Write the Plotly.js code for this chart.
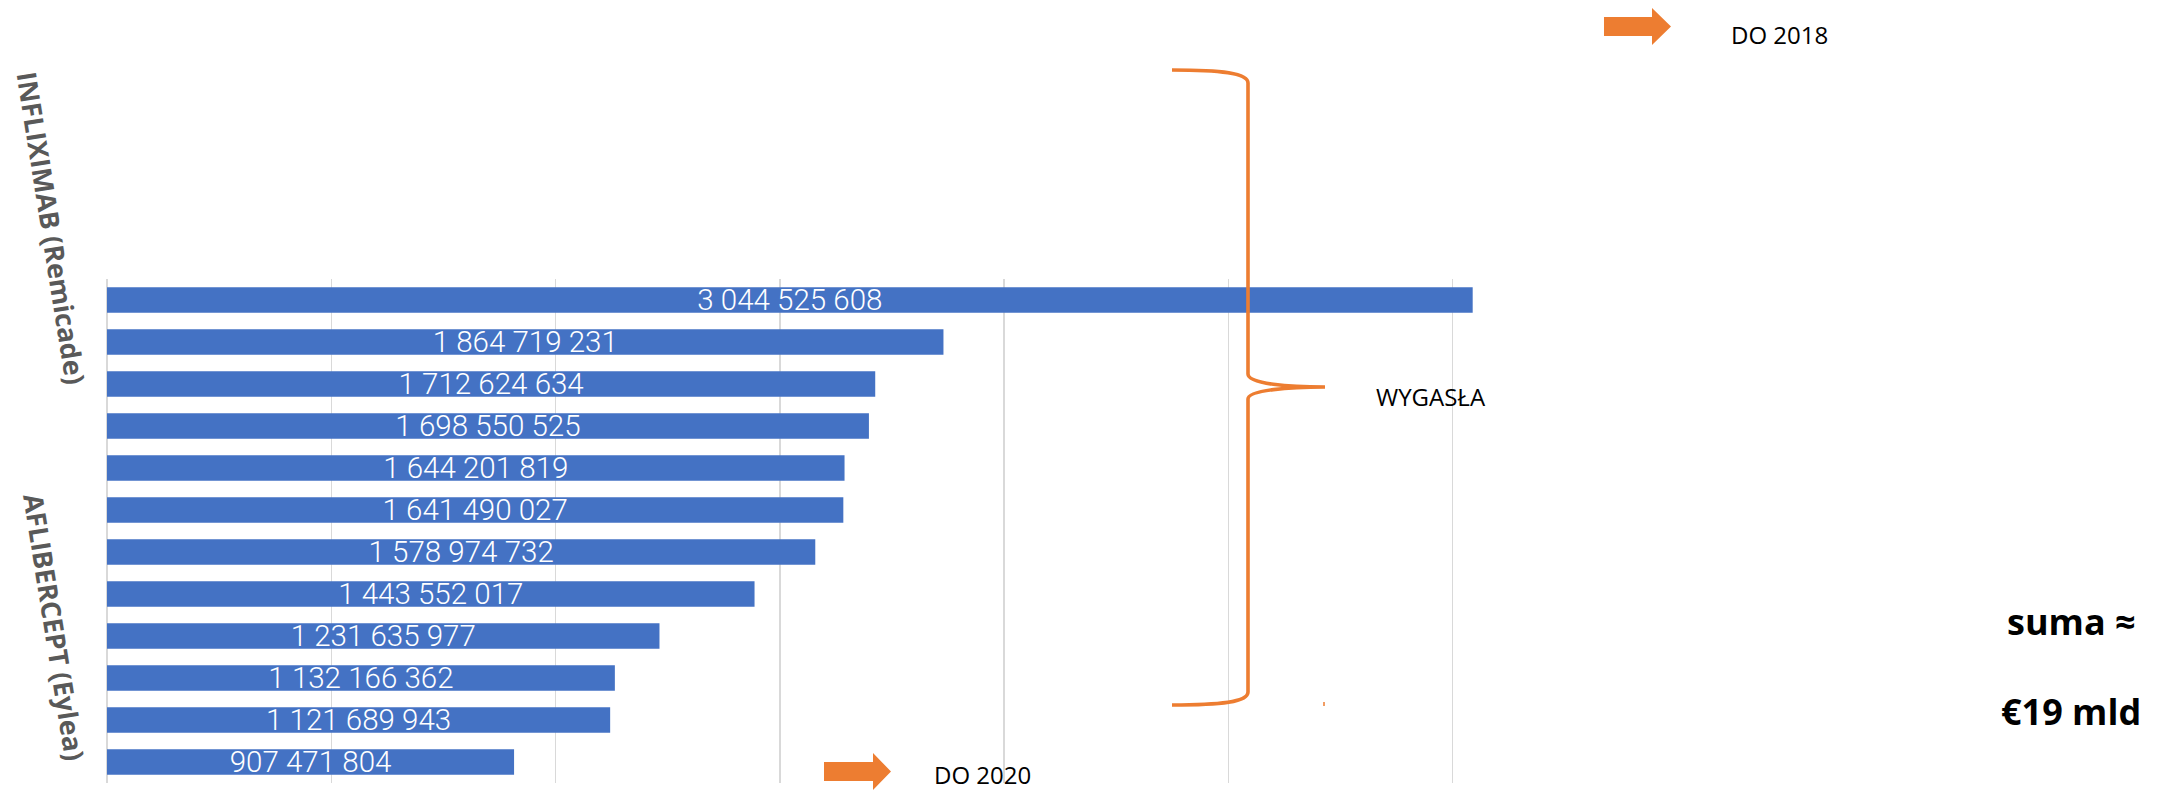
<!DOCTYPE html>
<html>
<head>
<meta charset="utf-8">
<script src="https://cdn.plot.ly/plotly-3.0.1.min.js"></script>
<style>html,body{margin:0;padding:0;background:#fff;}#chart{width:2167px;height:792px;}</style>
</head>
<body>
<div id="chart"></div>
<script>
// Data
const categories = ["1","2","3","4","5","6","7","8","9","10","11","12"];
const values = [3044525608, 1864719231, 1712624634, 1698550525, 1644201819, 1641490027,
                1578974732, 1443552017, 1231635977, 1132166362, 1121689943, 907471804];
const groupLabels = ["INFLIXIMAB (Remicade)", "AFLIBERCEPT (Eylea)"];
const noteLabels = ["DO 2018", "DO 2020", "WYGASŁA"];
const sumLabels = ["suma ≈", "€19 mld"];

// Layout geometry (pixels)
const W = 2167, H = 792;
const M = {l: 107, r: 490, t: 279, b: 9};
const PW = W - M.l - M.r, PH = H - M.t - M.b;
const px = x => (x - M.l) / PW;
const py = y => (H - M.b - y) / PH;
const ORANGE = "#ED7D31";

function pathPx(pts) {
  return pts.map(s => s.replace(/(-?\d+(?:\.\d+)?),(-?\d+(?:\.\d+)?)/g,
    (m, a, b) => px(+a).toFixed(5) + "," + py(+b).toFixed(5))).join(" ");
}

const brace = pathPx([
  "M 1172,70", "C 1222,70 1248,73 1248,83", "L 1248,374",
  "C 1248,384 1290,387 1325,387",
  "C 1290,387 1248,390 1248,399", "L 1248,692",
  "C 1248,702 1222,705 1172,705"
]);
const arrowTop = pathPx(["M 1604,17", "L 1652,17", "L 1652,8", "L 1671,26.5", "L 1652,45", "L 1652,36", "L 1604,36", "Z"]);
const arrowBot = pathPx(["M 824,762", "L 873,762", "L 873,753", "L 891,771.5", "L 873,790", "L 873,781", "L 824,781", "Z"]);
const tick = pathPx(["M 1324,702", "L 1324,706"]);

const trace = {
  type: "bar",
  orientation: "h",
  y: categories,
  x: values,
  marker: {color: "#4472C4"},
  texttemplate: "%{x:,.0f}",
  textposition: "inside",
  insidetextanchor: "middle",
  constraintext: "none",
  textfont: {family: "Roboto, 'DejaVu Sans Condensed', sans-serif", size: 29.5, color: "#ffffff", weight: 300},
  hoverinfo: "none"
};

const annFont = {family: "'Open Sans', 'Noto Sans', sans-serif", size: 24, color: "#000000"};
const layout = {
  width: W, height: H,
  margin: M,
  paper_bgcolor: "#ffffff", plot_bgcolor: "#ffffff",
  separators: ", ",
  showlegend: false,
  bargap: 0.39,
  xaxis: {
    range: [0, 3.5e9], dtick: 5e8, tick0: 0,
    showgrid: true, gridcolor: "#d9d9d9", gridwidth: 1.5,
    zeroline: true, zerolinecolor: "#d9d9d9", zerolinewidth: 1.5,
    showticklabels: false, ticks: "", showline: false, fixedrange: true
  },
  yaxis: {
    type: "category", autorange: "reversed",
    showgrid: false, zeroline: false, showticklabels: false, ticks: "", showline: false, fixedrange: true
  },
  shapes: [
    {type: "path", xref: "paper", yref: "paper", path: brace, line: {color: ORANGE, width: 3.6}, fillcolor: "rgba(0,0,0,0)"},
    {type: "path", xref: "paper", yref: "paper", path: tick, line: {color: ORANGE, width: 1.5}},
    {type: "path", xref: "paper", yref: "paper", path: arrowTop, line: {width: 0}, fillcolor: ORANGE},
    {type: "path", xref: "paper", yref: "paper", path: arrowBot, line: {width: 0}, fillcolor: ORANGE}
  ],
  annotations: [
    {xref: "paper", yref: "paper", x: px(51), y: py(228), text: groupLabels[0], showarrow: false,
     textangle: 81, xanchor: "center", yanchor: "middle",
     font: {family: "'Open Sans', sans-serif", size: 27, color: "#595959", weight: 700}},
    {xref: "paper", yref: "paper", x: px(55), y: py(627), text: groupLabels[1], showarrow: false,
     textangle: 81, xanchor: "center", yanchor: "middle",
     font: {family: "'Open Sans', sans-serif", size: 27, color: "#595959", weight: 700}},
    {xref: "paper", yref: "paper", x: px(1779), y: py(35), text: noteLabels[0], showarrow: false,
     xanchor: "center", yanchor: "middle", font: annFont},
    {xref: "paper", yref: "paper", x: px(982), y: py(774), text: noteLabels[1], showarrow: false,
     xanchor: "center", yanchor: "middle", font: annFont},
    {xref: "paper", yref: "paper", x: px(1431), y: py(396), text: noteLabels[2], showarrow: false,
     xanchor: "center", yanchor: "middle", font: annFont},
    {xref: "paper", yref: "paper", x: px(2071), y: py(621), text: sumLabels[0], showarrow: false,
     xanchor: "center", yanchor: "middle",
     font: {family: "'Open Sans', sans-serif", size: 36, color: "#000000", weight: 700}},
    {xref: "paper", yref: "paper", x: px(2071), y: py(711), text: sumLabels[1], showarrow: false,
     xanchor: "center", yanchor: "middle",
     font: {family: "'Open Sans', sans-serif", size: 36, color: "#000000", weight: 700}}
  ]
};

Plotly.newPlot("chart", [trace], layout, {staticPlot: true, displayModeBar: false});
</script>
</body>
</html>
